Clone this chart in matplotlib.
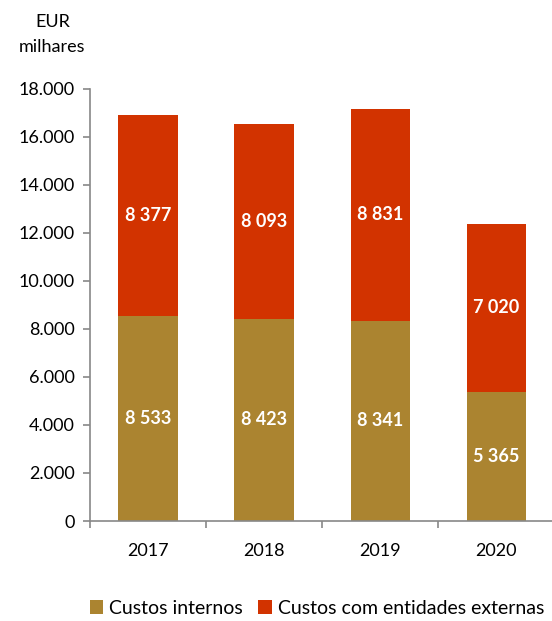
import matplotlib
matplotlib.use('Agg')
from matplotlib import pyplot as plt
import numpy as np

years = ['2017', '2018', '2019', '2020']
internos = [8533, 8423, 8341, 5365]
externos = [8377, 8093, 8831, 7020]
int_labels = ['8 533', '8 423', '8 341', '5 365']
ext_labels = ['8 377', '8 093', '8 831', '7 020']
yticks = [0, 2000, 4000, 6000, 8000, 10000, 12000, 14000, 16000, 18000]
ytick_labels = ['0', '2.000', '4.000', '6.000', '8.000', '10.000', '12.000', '14.000', '16.000', '18.000']

color_int = '#AB8430'
color_ext = '#D23300'
axis_color = '#888888'

plt.rcParams['font.family'] = ['Lato', 'DejaVu Sans']

fig = plt.figure(figsize=(5.52, 6.21), dpi=100)
ax = fig.add_axes([0.163, 0.161, 0.841, 0.696])

x = np.arange(len(years))
w = 0.51
ax.bar(x, internos, w, color=color_int, label='Custos internos')
ax.bar(x, externos, w, bottom=internos, color=color_ext, label='Custos com entidades externas')

for i in range(len(years)):
    ax.text(x[i], internos[i] / 2, int_labels[i], ha='center', va='center',
            color='white', fontsize=13, fontweight='bold')
    ax.text(x[i], internos[i] + externos[i] / 2, ext_labels[i], ha='center', va='center',
            color='white', fontsize=13, fontweight='bold')

ax.set_xlim(-0.5, 3.5)
ax.set_ylim(0, 18000)
ax.set_yticks(yticks)
ax.set_yticklabels(ytick_labels, fontsize=13)
ax.set_xticks(x)
ax.set_xticklabels(years, fontsize=13)
ax.set_xticks(np.arange(-0.5, 4.0, 1.0), minor=True)
ax.tick_params(axis='x', which='major', length=0, pad=16)
ax.tick_params(axis='x', which='minor', length=5, color=axis_color, width=1.2)
ax.tick_params(axis='y', length=5, color=axis_color, width=1.2, pad=6)

for s in ['top', 'right']:
    ax.spines[s].set_visible(False)
for s in ['left', 'bottom']:
    ax.spines[s].set_color(axis_color)
    ax.spines[s].set_linewidth(1.2)

fig.text(0.095, 0.965, 'EUR', ha='center', va='center', fontsize=13)
fig.text(0.094, 0.924, 'milhares', ha='center', va='center', fontsize=13)

ax.legend(loc='lower right', bbox_to_anchor=(0.995, -0.24), ncol=2, frameon=False,
          fontsize=14, handlelength=0.7, handleheight=0.7, handletextpad=0.3,
          columnspacing=0.8, borderaxespad=0)

fig.savefig('out.png', dpi=100)
